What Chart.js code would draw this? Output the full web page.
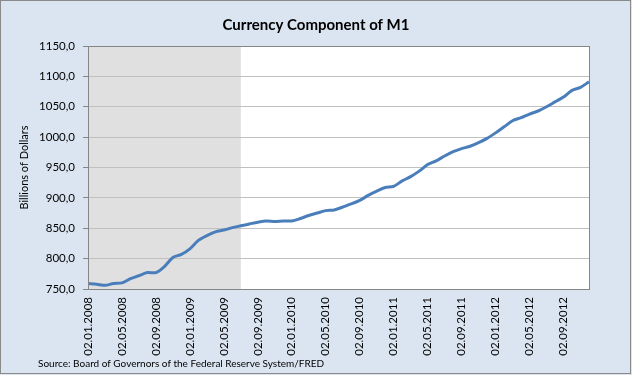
<!DOCTYPE html>
<html>
<head>
<meta charset="utf-8">
<script src="https://cdn.jsdelivr.net/npm/chart.js@4"></script>
<style>
  html, body { margin: 0; padding: 0; background: #dbe5f1; }
</style>
</head>
<body>
<canvas id="myChart" width="632" height="375"></canvas>
<script>
// months, first of each month (labels shown every 4 months)
const months = [
  '02.01.2008', '02.02.2008', '02.03.2008', '02.04.2008', '02.05.2008', '02.06.2008',
  '02.07.2008', '02.08.2008', '02.09.2008', '02.10.2008', '02.11.2008', '02.12.2008',
  '02.01.2009', '02.02.2009', '02.03.2009', '02.04.2009', '02.05.2009', '02.06.2009',
  '02.07.2009', '02.08.2009', '02.09.2009', '02.10.2009', '02.11.2009', '02.12.2009',
  '02.01.2010', '02.02.2010', '02.03.2010', '02.04.2010', '02.05.2010', '02.06.2010',
  '02.07.2010', '02.08.2010', '02.09.2010', '02.10.2010', '02.11.2010', '02.12.2010',
  '02.01.2011', '02.02.2011', '02.03.2011', '02.04.2011', '02.05.2011', '02.06.2011',
  '02.07.2011', '02.08.2011', '02.09.2011', '02.10.2011', '02.11.2011', '02.12.2011',
  '02.01.2012', '02.02.2012', '02.03.2012', '02.04.2012', '02.05.2012', '02.06.2012',
  '02.07.2012', '02.08.2012', '02.09.2012', '02.10.2012', '02.11.2012', '02.12.2012'
];

// currency component of M1, billions of dollars
const currency = [
  759, 758, 756, 759, 760, 767, 772, 777, 777, 787, 802, 807,
  816, 830, 838, 844, 847, 851, 854, 857, 860, 862, 861, 862,
  862, 866, 871, 875, 879, 880, 885, 890, 896, 904, 911, 917,
  919, 928, 935, 944, 955, 961, 969, 976, 981, 985, 991, 998,
  1007, 1017, 1027, 1032, 1038, 1043, 1050, 1058, 1066, 1077, 1082, 1091
];

// recession shading (month indexes)
const recessionStart = 0;
const recessionEnd = 18;

const FONT = 'Lato, "DejaVu Sans", sans-serif';

const backgroundPlugin = {
  id: 'background',
  beforeDraw(chart) {
    const { ctx, chartArea, scales } = chart;
    ctx.save();
    ctx.fillStyle = '#dbe5f1';
    ctx.fillRect(0, 0, chart.width, chart.height);
    ctx.fillStyle = '#ffffff';
    ctx.fillRect(chartArea.left, chartArea.top, chartArea.right - chartArea.left, chartArea.bottom - chartArea.top);
    const x0 = scales.x.getPixelForValue(recessionStart);
    const x1 = scales.x.getPixelForValue(recessionEnd);
    ctx.fillStyle = '#e0e0e0';
    ctx.fillRect(x0, chartArea.top, x1 - x0, chartArea.bottom - chartArea.top);
    ctx.restore();
  },
  afterDraw(chart) {
    const { ctx, chartArea } = chart;
    ctx.save();
    // plot area border
    ctx.strokeStyle = '#868686';
    ctx.lineWidth = 1;
    ctx.strokeRect(Math.round(chartArea.left) + 0.5, Math.round(chartArea.top) + 0.5,
      Math.round(chartArea.right - chartArea.left), Math.round(chartArea.bottom - chartArea.top));
    // outer border
    ctx.strokeStyle = '#8a8a8a';
    ctx.strokeRect(0.5, 0.5, 630, 373);
    // source
    ctx.fillStyle = '#000000';
    ctx.font = '10px ' + FONT;
    ctx.textBaseline = 'middle';
    ctx.fillText('Source: Board of Governors of the Federal Reserve System/FRED', 38, 364);
    ctx.restore();
  }
};

new Chart(document.getElementById('myChart').getContext('2d'), {
  type: 'line',
  data: {
    labels: months,
    datasets: [{
      label: 'Currency Component of M1',
      data: currency,
      borderColor: '#4a7ebb',
      borderWidth: 3,
      pointRadius: 0,
      tension: 0.3,
      fill: false
    }]
  },
  options: {
    responsive: false,
    animation: false,
    layout: { padding: { left: 10, right: 10, top: 2, bottom: 0 } },
    scales: {
      x: {
        offset: false,
        grid: { display: false, drawTicks: false },
        border: { display: false },
        afterFit: (s) => { s.height = 86; },
        ticks: {
          autoSkip: false,
          maxRotation: 90,
          minRotation: 90,
          padding: 8,
          color: '#000000',
          font: { family: FONT, size: 11.5 },
          callback: function (value, index) {
            return index % 4 === 0 ? this.getLabelForValue(value) : '';
          }
        }
      },
      y: {
        min: 750,
        max: 1150,
        afterFit: (s) => { s.width = 78; },
        grid: { color: '#c0c0c0', tickLength: 5, tickColor: '#868686' },
        border: { display: false },
        ticks: {
          stepSize: 50,
          padding: 8,
          color: '#000000',
          font: { family: FONT, size: 11.5 },
          callback: (v) => v.toFixed(1).replace('.', ',')
        },
        title: {
          display: true,
          text: 'Billions of Dollars',
          color: '#000000',
          padding: { top: 8, bottom: 0 },
          font: { family: FONT, size: 11 }
        }
      },
      // empty right-hand margin so the title centres on the whole picture
      yRight: {
        type: 'linear',
        position: 'right',
        display: true,
        afterFit: (s) => { s.width = 33; },
        grid: { display: false, drawTicks: false },
        border: { display: false },
        ticks: { display: false }
      }
    },
    plugins: {
      legend: { display: false },
      tooltip: { enabled: false },
      title: {
        display: true,
        text: 'Currency Component of M1',
        color: '#000000',
        padding: { top: 14, bottom: 12 },
        font: { family: FONT, size: 15, weight: 'bold', lineHeight: 1.2 }
      }
    }
  },
  plugins: [backgroundPlugin]
});
</script>
</body>
</html>
